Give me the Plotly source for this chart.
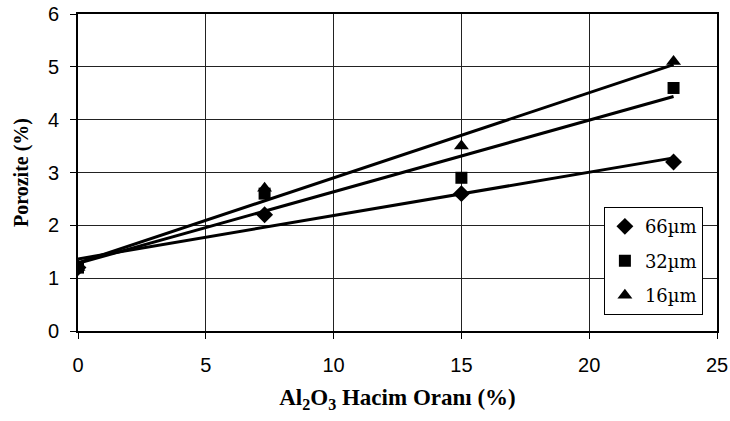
import numpy as np
import plotly.graph_objects as go

x_vals = [0, 7.3, 15, 23.3]
series_names = ["66µm", "32µm", "16µm"]
y_66 = [1.2, 2.2, 2.6, 3.2]
y_32 = [1.2, 2.6, 2.9, 4.6]
y_16 = [1.2, 2.7, 3.5, 5.1]
symbols = ["diamond", "square", "triangle-up"]
sizes = [13, 12, 13]

fig = go.Figure()
for name, ys in zip(series_names, [y_66, y_32, y_16]):
    slope, intercept = np.polyfit(x_vals, ys, 1)
    xt = [min(x_vals), max(x_vals)]
    fig.add_trace(go.Scatter(x=xt, y=[intercept + slope * v for v in xt], mode="lines",
                             line=dict(color="black", width=3), showlegend=False, hoverinfo="skip"))
for name, ys, sym, sz in zip(series_names, [y_66, y_32, y_16], symbols, sizes):
    fig.add_trace(go.Scatter(x=x_vals, y=ys, mode="markers", name=name, legendgroup=name,
                             marker=dict(symbol=sym, size=sz, color="black")))

axis_common = dict(showgrid=True, gridcolor="#222", gridwidth=1,
                   showline=True, linecolor="black", linewidth=2, mirror=True,
                   ticks="outside", ticklen=6, tickcolor="black", zeroline=False,
                   automargin=False,
                   tickfont=dict(family="Liberation Sans", size=20, color="black"))

fig.update_layout(
    template="none",
    width=730, height=421,
    margin=dict(l=78, r=13, t=14, b=90),
    plot_bgcolor="white", paper_bgcolor="white",
    showlegend=True,
    legend=dict(x=0.823, y=0.05, xanchor="left", yanchor="bottom",
                bordercolor="black", borderwidth=1, bgcolor="white",
                font=dict(family="DejaVu Serif", size=18, color="black"),
                tracegroupgap=8, itemwidth=30),
    font=dict(family="Liberation Sans", size=20, color="black"),
)
fig.update_xaxes(range=[0, 25], dtick=5, ticklabelstandoff=9, **axis_common,
                 title=dict(text="<b>Al<sub>2</sub>O<sub>3</sub> Hacim Oranı (%)</b>",
                            font=dict(family="Liberation Serif", size=23, color="black"), standoff=14))
fig.update_yaxes(range=[0, 6], dtick=1, ticklabelstandoff=7, **axis_common,
                 title=dict(text="<b>Porozite (%)</b>",
                            font=dict(family="Liberation Serif", size=20, color="black"), standoff=14))

fig.write_html("out.html", config={"displayModeBar": False},
               post_script="document.body.style.margin='0';document.body.style.overflow='hidden';")
